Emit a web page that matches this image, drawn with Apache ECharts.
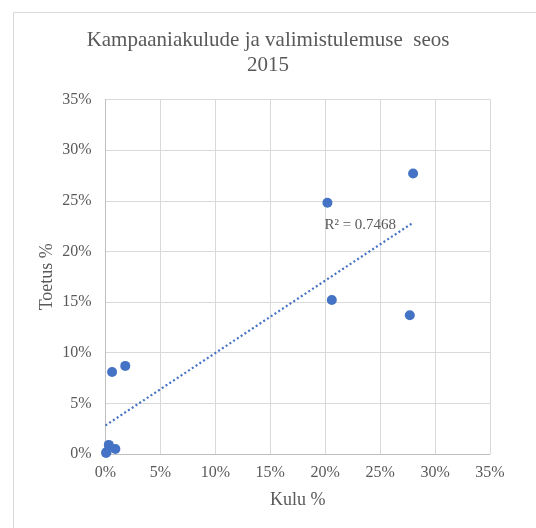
<!DOCTYPE html>
<html><head><meta charset="utf-8">
<script src="https://cdn.jsdelivr.net/npm/echarts@6/dist/echarts.min.js"></script>
<style>html,body{margin:0;padding:0;background:#fff}#c{width:536px;height:528px}</style>
</head><body><div id="c"></div>
<script>
// Kulu % (campaign spending share) and Toetus % (vote share), 2015
const kulu   = [28.0, 20.2, 27.7, 20.6, 0.6, 1.8, 0.3, 0.9, 0.1, 0.05];
const toetus = [27.7, 24.8, 13.7, 15.2, 8.1, 8.7, 0.9, 0.5, 0.2, 0.1];
const xTicks = [0, 5, 10, 15, 20, 25, 30, 35];
const yTicks = [0, 5, 10, 15, 20, 25, 30, 35];
const titleText = 'Kampaaniakulude ja valimistulemuse  seos\n2015';
const xName = 'Kulu %';
const yName = 'Toetus %';
const r2Label = 'R² = 0.7468';

const pts = kulu.map((x, i) => [x, toetus[i]]);
// linear regression for trendline
const n = kulu.length;
const mx = kulu.reduce((a, b) => a + b, 0) / n;
const my = toetus.reduce((a, b) => a + b, 0) / n;
let sxy = 0, sxx = 0;
for (let i = 0; i < n; i++) { sxy += (kulu[i] - mx) * (toetus[i] - my); sxx += (kulu[i] - mx) ** 2; }
const slope = sxy / sxx, icpt = my - slope * mx;
const xMin = 0, xMax = Math.max(...kulu);
const trend = [[xMin, icpt + slope * xMin], [xMax, icpt + slope * xMax]];

const serif = '"Liberation Serif","Times New Roman",serif';
const txt = '#595959';
const chart = echarts.init(document.getElementById('c'));
chart.setOption({
  animation: false,
  title: { text: titleText, left: 'center', top: 23, textStyle: { fontFamily: serif, fontSize: 21, fontWeight: 'normal', color: txt, lineHeight: 25 } },
  graphic: [{ type: 'rect', shape: { x: 13.5, y: 12.5, width: 700, height: 700 }, style: { fill: 'none', stroke: '#d9d9d9', lineWidth: 1 }, silent: true }],
  grid: { left: 105.5, right: 46, top: 99.5, bottom: 74 },
  xAxis: {
    type: 'value', min: xTicks[0], max: xTicks[xTicks.length - 1], interval: 5,
    name: xName, nameLocation: 'middle', nameGap: 37, nameMoveOverlap: false,
    nameTextStyle: { fontFamily: serif, fontSize: 18, color: txt },
    axisLine: { show: true, lineStyle: { color: '#bfbfbf', width: 1 } },
    axisTick: { show: false },
    axisLabel: { formatter: v => v + '%', fontFamily: serif, fontSize: 16, color: txt, margin: 11 },
    splitLine: { show: true, lineStyle: { color: '#d9d9d9', width: 1 } }
  },
  yAxis: {
    type: 'value', min: yTicks[0], max: yTicks[yTicks.length - 1], interval: 5,
    name: yName, nameLocation: 'middle', nameGap: 49, nameRotate: 90, nameMoveOverlap: false,
    nameTextStyle: { fontFamily: serif, fontSize: 18, color: txt },
    axisLine: { show: true, lineStyle: { color: '#bfbfbf', width: 1 } },
    axisTick: { show: false },
    axisLabel: { formatter: v => v + '%', fontFamily: serif, fontSize: 16, color: txt, margin: 14 },
    splitLine: { show: true, lineStyle: { color: '#d9d9d9', width: 1 } }
  },
  series: [
    {
      type: 'line', data: trend,
      symbol: 'none', showSymbol: false,
      lineStyle: { color: '#4472C4', width: 2.2, type: [2, 2.5] }, z: 2,
      markPoint: {
        symbol: 'circle', symbolSize: 0, silent: true,
        data: [{ coord: trend[1] }],
        label: { show: true, position: 'left', distance: 17, offset: [0, 2], formatter: r2Label, fontFamily: serif, fontSize: 15, color: txt }
      }
    },
    {
      type: 'scatter', data: pts, symbol: 'circle', symbolSize: 10,
      itemStyle: { color: '#4472C4', opacity: 1 }, z: 3
    }
  ]
});
</script></body></html>
